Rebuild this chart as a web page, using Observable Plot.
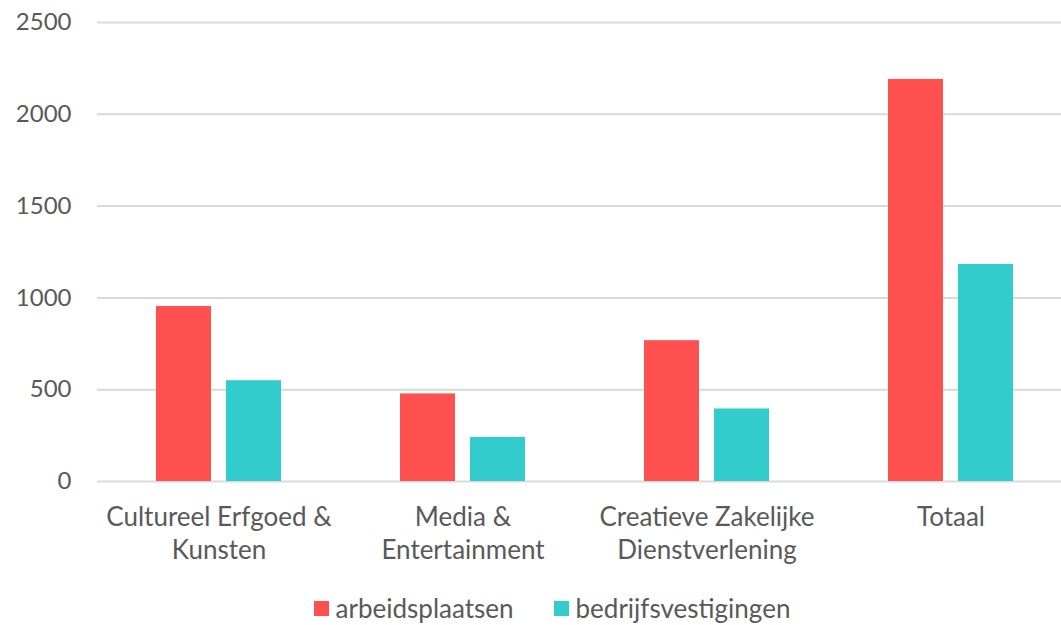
<!DOCTYPE html>
<html><head><meta charset="utf-8">
<script src="https://cdn.jsdelivr.net/npm/d3@7"></script>
<script src="https://cdn.jsdelivr.net/npm/@observablehq/plot@0.6"></script>
<style>
html,body{margin:0;padding:0;background:#fff;overflow:hidden;}
body{font-family:Lato, "Open Sans", sans-serif;width:1061px;height:625px;position:relative;}
#chart svg{display:block;}
#legend{position:absolute;left:0;top:592px;width:1104px;height:32px;display:flex;justify-content:center;align-items:center;gap:40px;font-size:26px;color:#595959;}
.item{display:flex;align-items:center;gap:7px;}
.sw{width:15px;height:15px;display:inline-block;}
</style></head><body>
<div id="chart"></div>
<div id="legend"></div>
<script>
const categories = ["Cultureel Erfgoed & Kunsten", "Media & Entertainment", "Creatieve Zakelijke Dienstverlening", "Totaal"];
const categoryLabels = ["Cultureel Erfgoed &\nKunsten", "Media &\nEntertainment", "Creatieve Zakelijke\nDienstverlening", "Totaal"];
const series = ["arbeidsplaatsen", "bedrijfsvestigingen"];
const arbeidsplaatsen = [953, 477, 767, 2190];
const bedrijfsvestigingen = [549, 240, 395, 1182];
const yTicks = [0, 500, 1000, 1500, 2000, 2500];
const colors = ["#FF5050", "#33CCCC"];

const values = [arbeidsplaatsen, bedrijfsvestigingen];
const data = [];
series.forEach((s, i) => categories.forEach((c, j) => data.push({category: c, series: s, value: values[i][j]})));

const H = 585;
const chart = Plot.plot({
  width: 1061,
  height: H,
  marginLeft: 97,
  marginRight: 0,
  marginTop: 22,
  marginBottom: H - 481,
  style: {fontFamily: "Lato, 'Open Sans', sans-serif", fontSize: "24px", color: "#595959", background: "#fff", overflow: "hidden"},
  x: {domain: categories, range: [97, 1073], paddingInner: 0.4877, paddingOuter: 0.2438},
  y: {domain: [0, 2500]},
  color: {domain: series, range: colors},
  marks: [
    Plot.ruleY(yTicks, {stroke: "#d9d9d9", strokeWidth: 2}),
    ...series.map((s, i) => Plot.barY(data.filter(d => d.series === s), {
      x: "category", y: "value", fill: "series",
      insetLeft: i * 70, insetRight: (1 - i) * 70
    })),
    Plot.axisY({ticks: yTicks, tickSize: 0, tickPadding: 26, fontSize: 24, label: null, tickFormat: d3.format("d")}),
    Plot.axisX({tickSize: 0, tickPadding: 21, fontSize: 26, lineHeight: 1.27, label: null,
      tickFormat: d => categoryLabels[categories.indexOf(d)]})
  ]
});
document.getElementById("chart").appendChild(chart);

const legend = document.getElementById("legend");
series.forEach((s, i) => {
  const it = document.createElement("div"); it.className = "item";
  const sw = document.createElement("span"); sw.className = "sw"; sw.style.background = colors[i];
  const tx = document.createElement("span"); tx.textContent = s;
  it.appendChild(sw); it.appendChild(tx); legend.appendChild(it);
});
</script>
</body></html>
